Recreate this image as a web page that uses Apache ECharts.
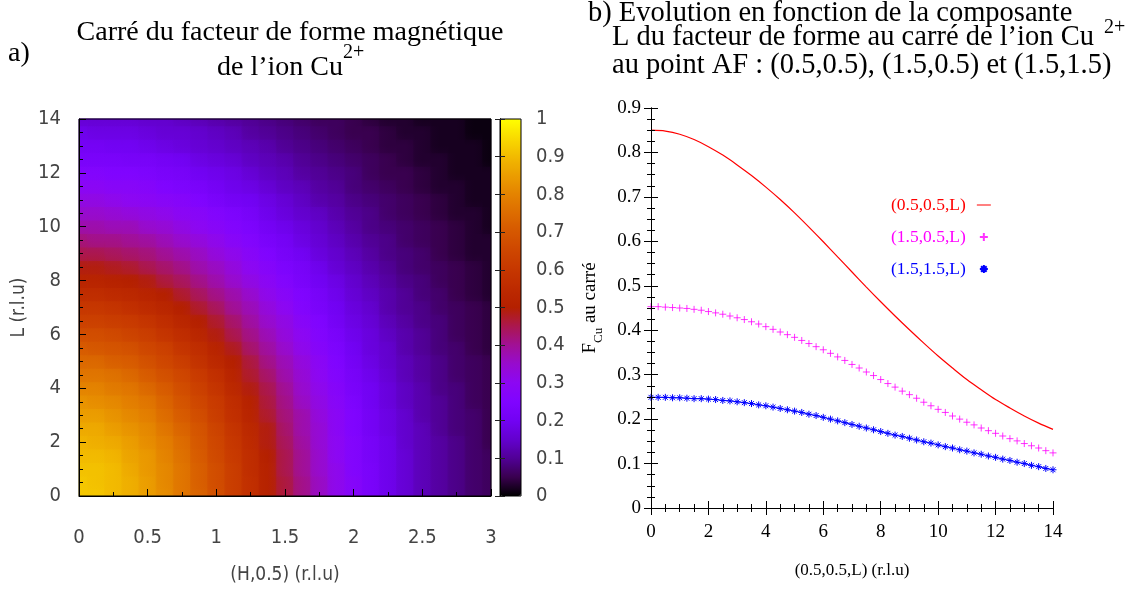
<!DOCTYPE html>
<html>
<head>
<meta charset="utf-8">
<title>Facteur de forme magnetique Cu2+</title>
<script src="https://cdn.jsdelivr.net/npm/echarts@6.0.0/dist/echarts.min.js"></script>
<style>
html, body { margin: 0; padding: 0; background: #fff; }
#main { width: 1142px; height: 594px; }
</style>
</head>
<body>
<div id="main"></div>
<script>
// a) carte (H,0.5,L) : grille
var hCells = [0, 0.125, 0.25, 0.375, 0.5, 0.625, 0.75, 0.875, 1, 1.125, 1.25, 1.375, 1.5,
    1.625, 1.75, 1.875, 2, 2.125, 2.25, 2.375, 2.5, 2.625, 2.75, 2.875, 3];
var lCells = [0, 0.5, 1, 1.5, 2, 2.5, 3, 3.5, 4, 4.5, 5, 5.5, 6, 6.5, 7, 7.5, 8, 8.5, 9, 9.5,
    10, 10.5, 11, 11.5, 12, 12.5, 13, 13.5, 14];
// une ligne par valeur de L (de 0 a 14), une colonne par valeur de H
var formFactorGrid = [
    [0.92,0.92,0.90,0.88,0.85,0.82,0.77,0.73,0.68,0.62,0.57,0.51,0.46,0.41,0.36,0.31,0.27,0.23,0.19,0.16,0.13,0.11,0.09,0.07,0.06],
    [0.92,0.91,0.90,0.88,0.85,0.81,0.77,0.72,0.67,0.62,0.57,0.51,0.46,0.41,0.36,0.31,0.27,0.23,0.19,0.16,0.13,0.11,0.09,0.07,0.06],
    [0.91,0.91,0.90,0.87,0.84,0.81,0.77,0.72,0.67,0.62,0.56,0.51,0.45,0.40,0.35,0.31,0.26,0.23,0.19,0.16,0.13,0.11,0.09,0.07,0.06],
    [0.90,0.90,0.89,0.86,0.84,0.80,0.76,0.71,0.66,0.61,0.56,0.50,0.45,0.40,0.35,0.30,0.26,0.22,0.19,0.16,0.13,0.11,0.09,0.07,0.06],
    [0.89,0.88,0.87,0.85,0.82,0.79,0.75,0.70,0.65,0.60,0.55,0.49,0.44,0.39,0.34,0.30,0.26,0.22,0.19,0.15,0.13,0.11,0.09,0.07,0.05],
    [0.87,0.87,0.85,0.83,0.81,0.77,0.73,0.69,0.64,0.59,0.54,0.49,0.43,0.38,0.34,0.29,0.25,0.21,0.18,0.15,0.13,0.10,0.08,0.07,0.05],
    [0.85,0.85,0.83,0.81,0.79,0.75,0.71,0.67,0.62,0.57,0.52,0.47,0.42,0.38,0.33,0.29,0.25,0.21,0.18,0.15,0.12,0.10,0.08,0.07,0.05],
    [0.83,0.82,0.81,0.79,0.77,0.73,0.69,0.65,0.61,0.56,0.51,0.46,0.41,0.36,0.32,0.28,0.24,0.20,0.17,0.14,0.12,0.10,0.08,0.06,0.05],
    [0.80,0.80,0.78,0.77,0.74,0.71,0.67,0.63,0.59,0.54,0.49,0.45,0.40,0.35,0.31,0.27,0.23,0.20,0.17,0.14,0.12,0.09,0.08,0.06,0.05],
    [0.77,0.77,0.76,0.74,0.71,0.68,0.65,0.61,0.57,0.52,0.47,0.43,0.38,0.34,0.30,0.26,0.22,0.19,0.16,0.13,0.11,0.09,0.07,0.06,0.05],
    [0.74,0.74,0.72,0.71,0.68,0.65,0.62,0.58,0.54,0.50,0.46,0.41,0.37,0.33,0.29,0.25,0.21,0.18,0.15,0.13,0.11,0.09,0.07,0.06,0.05],
    [0.71,0.70,0.69,0.68,0.65,0.63,0.59,0.56,0.52,0.48,0.43,0.39,0.35,0.31,0.27,0.24,0.20,0.17,0.15,0.12,0.10,0.08,0.07,0.05,0.04],
    [0.67,0.67,0.66,0.64,0.62,0.59,0.56,0.53,0.49,0.45,0.41,0.37,0.33,0.30,0.26,0.23,0.19,0.17,0.14,0.12,0.10,0.08,0.06,0.05,0.04],
    [0.63,0.63,0.62,0.61,0.59,0.56,0.53,0.50,0.47,0.43,0.39,0.35,0.32,0.28,0.25,0.21,0.18,0.16,0.13,0.11,0.09,0.08,0.06,0.05,0.04],
    [0.60,0.60,0.59,0.57,0.55,0.53,0.50,0.47,0.44,0.40,0.37,0.33,0.30,0.26,0.23,0.20,0.17,0.15,0.12,0.10,0.09,0.07,0.06,0.05,0.04],
    [0.56,0.56,0.55,0.54,0.52,0.50,0.47,0.44,0.41,0.38,0.35,0.31,0.28,0.25,0.22,0.19,0.16,0.14,0.12,0.10,0.08,0.07,0.05,0.04,0.03],
    [0.52,0.52,0.51,0.50,0.49,0.46,0.44,0.41,0.38,0.35,0.32,0.29,0.26,0.23,0.20,0.18,0.15,0.13,0.11,0.09,0.08,0.06,0.05,0.04,0.03],
    [0.49,0.49,0.48,0.47,0.45,0.43,0.41,0.38,0.36,0.33,0.30,0.27,0.24,0.22,0.19,0.16,0.14,0.12,0.10,0.08,0.07,0.06,0.05,0.04,0.03],
    [0.45,0.45,0.44,0.43,0.42,0.40,0.38,0.36,0.33,0.31,0.28,0.25,0.22,0.20,0.17,0.15,0.13,0.11,0.09,0.08,0.07,0.05,0.04,0.03,0.03],
    [0.42,0.41,0.41,0.40,0.39,0.37,0.35,0.33,0.31,0.28,0.26,0.23,0.21,0.18,0.16,0.14,0.12,0.10,0.09,0.07,0.06,0.05,0.04,0.03,0.03],
    [0.38,0.38,0.37,0.37,0.35,0.34,0.32,0.30,0.28,0.26,0.24,0.21,0.19,0.17,0.15,0.13,0.11,0.09,0.08,0.07,0.06,0.05,0.04,0.03,0.02],
    [0.35,0.35,0.34,0.33,0.32,0.31,0.29,0.28,0.26,0.24,0.22,0.19,0.17,0.15,0.14,0.12,0.10,0.09,0.07,0.06,0.05,0.04,0.03,0.03,0.02],
    [0.32,0.32,0.31,0.30,0.29,0.28,0.27,0.25,0.23,0.21,0.20,0.18,0.16,0.14,0.12,0.11,0.09,0.08,0.07,0.06,0.05,0.04,0.03,0.02,0.02],
    [0.29,0.29,0.28,0.28,0.27,0.25,0.24,0.23,0.21,0.19,0.18,0.16,0.14,0.13,0.11,0.10,0.08,0.07,0.06,0.05,0.04,0.03,0.03,0.02,0.02],
    [0.26,0.26,0.25,0.25,0.24,0.23,0.22,0.20,0.19,0.18,0.16,0.14,0.13,0.11,0.10,0.09,0.08,0.06,0.05,0.05,0.04,0.03,0.02,0.02,0.02],
    [0.23,0.23,0.23,0.22,0.22,0.21,0.20,0.18,0.17,0.16,0.14,0.13,0.12,0.10,0.09,0.08,0.07,0.06,0.05,0.04,0.03,0.03,0.02,0.02,0.01],
    [0.21,0.21,0.20,0.20,0.19,0.18,0.17,0.16,0.15,0.14,0.13,0.12,0.10,0.09,0.08,0.07,0.06,0.05,0.04,0.04,0.03,0.02,0.02,0.02,0.01],
    [0.19,0.18,0.18,0.18,0.17,0.16,0.16,0.15,0.14,0.13,0.11,0.10,0.09,0.08,0.07,0.06,0.05,0.05,0.04,0.03,0.03,0.02,0.02,0.01,0.01],
    [0.16,0.16,0.16,0.16,0.15,0.15,0.14,0.13,0.12,0.11,0.10,0.09,0.08,0.07,0.06,0.06,0.05,0.04,0.03,0.03,0.02,0.02,0.02,0.01,0.01]
];
// palette gnuplot (noir - bleu - violet - rouge - jaune)
var paletteColors = ['#000000', '#39004f', '#510096', '#6301ce', '#7202f3', '#8004ff', '#8c07f3',
    '#970bce', '#a11096', '#ab174f', '#b42000', '#bd2a00', '#c63700', '#ce4600', '#d55700',
    '#dd6c00', '#e48300', '#eb9d00', '#f2ba00', '#f9db00', '#ffff00'];

// b) courbes en fonction de L
var lCoarse = [0, 0.5, 1, 1.5, 2, 2.5, 3, 3.5, 4, 4.5, 5, 5.5, 6, 6.5, 7, 7.5, 8, 8.5, 9, 9.5,
    10, 10.5, 11, 11.5, 12, 12.5, 13, 13.5, 14];
var redValues = [0.850, 0.848, 0.841, 0.829, 0.813, 0.794, 0.772, 0.748, 0.722, 0.694, 0.664,
    0.632, 0.599, 0.565, 0.531, 0.497, 0.464, 0.432, 0.401, 0.371, 0.342, 0.315, 0.289, 0.266,
    0.244, 0.225, 0.207, 0.191, 0.177];
var lFine = [0, 0.25, 0.5, 0.75, 1, 1.25, 1.5, 1.75, 2, 2.25, 2.5, 2.75, 3, 3.25, 3.5, 3.75,
    4, 4.25, 4.5, 4.75, 5, 5.25, 5.5, 5.75, 6, 6.25, 6.5, 6.75, 7, 7.25, 7.5, 7.75, 8, 8.25,
    8.5, 8.75, 9, 9.25, 9.5, 9.75, 10, 10.25, 10.5, 10.75, 11, 11.25, 11.5, 11.75, 12, 12.25,
    12.5, 12.75, 13, 13.25, 13.5, 13.75, 14];
var magentaValues = [0.453, 0.453, 0.452, 0.451, 0.450, 0.449, 0.447, 0.445, 0.442, 0.439,
    0.436, 0.432, 0.428, 0.424, 0.419, 0.414, 0.408, 0.402, 0.396, 0.390, 0.384, 0.377, 0.370,
    0.363, 0.356, 0.348, 0.340, 0.332, 0.323, 0.315, 0.306, 0.298, 0.289, 0.280, 0.272, 0.263,
    0.255, 0.247, 0.238, 0.230, 0.222, 0.215, 0.207, 0.200, 0.193, 0.187, 0.180, 0.174, 0.168,
    0.162, 0.156, 0.151, 0.145, 0.140, 0.135, 0.129, 0.124];
var blueValues = [0.249, 0.249, 0.249, 0.248, 0.248, 0.247, 0.246, 0.246, 0.245, 0.244, 0.242,
    0.241, 0.239, 0.237, 0.235, 0.232, 0.230, 0.227, 0.224, 0.221, 0.218, 0.215, 0.211, 0.208,
    0.204, 0.200, 0.196, 0.192, 0.188, 0.184, 0.180, 0.176, 0.172, 0.168, 0.164, 0.161, 0.157,
    0.153, 0.149, 0.146, 0.142, 0.138, 0.135, 0.131, 0.128, 0.124, 0.121, 0.117, 0.114, 0.110,
    0.107, 0.103, 0.100, 0.096, 0.093, 0.089, 0.086];
var seriesNames = ['(0.5,0.5,L)', '(1.5,0.5,L)', '(1.5,1.5,L)'];

function pairs(xs, ys) {
    return xs.map(function (x, i) { return [x, ys[i]]; });
}
// couleur de la palette pour une valeur entre 0 et 1
function paletteColor(v) {
    var n = paletteColors.length - 1;
    var pos = Math.max(0, Math.min(1, v)) * n;
    var i = Math.min(n - 1, Math.floor(pos));
    var t = pos - i;
    var a = paletteColors[i], b = paletteColors[i + 1];
    var rgb = [1, 3, 5].map(function (k) {
        var ca = parseInt(a.substr(k, 2), 16), cb = parseInt(b.substr(k, 2), 16);
        return Math.round(ca + (cb - ca) * t);
    });
    return 'rgb(' + rgb.join(',') + ')';
}
// une bande par ligne L, degrade le long de H
function renderRow(params, api) {
    var j = params.dataIndex;
    var l = lCells[j];
    var lo = Math.max(lCells[0], l - 0.25), hi = Math.min(lCells[lCells.length - 1], l + 0.25);
    var p0 = api.coord([hCells[0], hi]);
    var p1 = api.coord([hCells[hCells.length - 1], lo]);
    var w = p1[0] - p0[0];
    var stops = hCells.map(function (h, i) {
        return { offset: (api.coord([h, l])[0] - p0[0]) / w, color: paletteColor(formFactorGrid[j][i]) };
    });
    return {
        type: 'rect',
        shape: { x: p0[0], y: p0[1] - 0.6, width: w, height: p1[1] - p0[1] + 1.2 },
        style: { fill: new echarts.graphic.LinearGradient(0, 0, 1, 0, stops) }
    };
}
// une bande par colonne H, degrade le long de L (posee en demi-transparence)
function renderColumn(params, api) {
    var i = params.dataIndex;
    var h = hCells[i];
    var lo = Math.max(hCells[0], h - 0.0625), hi = Math.min(hCells[hCells.length - 1], h + 0.0625);
    var p0 = api.coord([lo, lCells[lCells.length - 1]]);
    var p1 = api.coord([hi, lCells[0]]);
    var ht = p1[1] - p0[1];
    var stops = lCells.map(function (l, j) {
        return { offset: (p1[1] - api.coord([h, l])[1]) / ht, color: paletteColor(formFactorGrid[j][i]) };
    });
    return {
        type: 'rect',
        shape: { x: p0[0] - 0.6, y: p0[1], width: p1[0] - p0[0] + 1.2, height: ht },
        style: { fill: new echarts.graphic.LinearGradient(0, 1, 0, 0, stops), opacity: 0.5 }
    };
}

var serif = "'Liberation Serif', 'Times New Roman', serif";
var narrow = "'Liberation Sans Narrow', 'DejaVu Sans Condensed', 'DejaVu Sans', sans-serif";
var plusPath = 'path://M0,4L8,4M4,0L4,8';
var starPath = 'path://M0,4L8,4M4,0L4,8M1.2,1.2L6.8,6.8M6.8,1.2L1.2,6.8';
var dashPath = 'path://M0,0L14,0L14,1L0,1Z';

function frameAxis(opt) {
    var base = {
        type: 'value',
        z: 10,
        axisLine: { show: true, lineStyle: { color: '#000', width: 1 } },
        axisTick: { show: true, inside: true, length: 7, lineStyle: { color: '#000' } },
        minorTick: { show: true, splitNumber: 4, length: 4, lineStyle: { color: '#000' } },
        splitLine: { show: false },
        axisLabel: { show: false }
    };
    for (var k in opt) base[k] = opt[k];
    return base;
}
function titleText(x, y, text, size, align) {
    return {
        type: 'text', x: x, y: y, z: 20,
        style: { text: text, font: size + 'px ' + serif, fill: '#000', textAlign: align, textVerticalAlign: 'middle' }
    };
}

var myChart = echarts.init(document.getElementById('main'));
var option = {
    animation: false,
    backgroundColor: '#fff',
    graphic: [
        titleText(8, 54, 'a)', 28, 'left'),
        titleText(290, 33, 'Carré du facteur de forme magnétique', 28, 'center'),
        titleText(217, 68, 'de l’ion Cu', 28, 'left'),
        titleText(343, 53, '2+', 20, 'left'),
        titleText(588, 14, 'b) Evolution en fonction de la composante', 28.5, 'left'),
        titleText(612, 38, 'L du facteur de forme au carré de l’ion Cu', 28.5, 'left'),
        titleText(1104, 28, '2+', 20, 'left'),
        titleText(612, 66, 'au point AF : (0.5,0.5), (1.5,0.5) et (1.5,1.5)', 28.5, 'left')
    ],
    grid: [
        { left: 79, top: 119, width: 412, height: 377, show: true, z: 10, backgroundColor: 'transparent', borderColor: '#000', borderWidth: 1 },
        { left: 500, top: 119, width: 21, height: 377, show: true, z: 10, backgroundColor: 'transparent', borderColor: '#000', borderWidth: 1 },
        { left: 651, top: 108, width: 402, height: 400 }
    ],
    xAxis: [
        frameAxis({
            gridIndex: 0, position: 'bottom', min: 0, max: 3, interval: 0.5,
            minorTick: { show: true, splitNumber: 2, length: 4, lineStyle: { color: '#000' } },
            axisLabel: { show: true, margin: 32, fontSize: 20, fontFamily: narrow, color: '#444' },
            name: '(H,0.5) (r.l.u)', nameLocation: 'middle', nameGap: 70,
            nameTextStyle: { fontSize: 19, fontFamily: narrow, color: '#444' }
        }),
        { type: 'value', gridIndex: 1, min: 0, max: 1, show: false },
        frameAxis({
            gridIndex: 2, position: 'bottom', min: 0, max: 14, interval: 2,
            axisLabel: { show: true, margin: 15, fontSize: 19, fontFamily: serif, color: '#000' },
            name: '(0.5,0.5,L) (r.l.u)', nameLocation: 'middle', nameGap: 54,
            nameTextStyle: { fontSize: 17, fontFamily: serif, color: '#000' }
        }),
        frameAxis({ gridIndex: 2, position: 'top', min: 0, max: 14, interval: 2 })
    ],
    yAxis: [
        frameAxis({
            gridIndex: 0, position: 'left', min: 0, max: 14, interval: 2,
            axisLabel: { show: true, margin: 18, fontSize: 20, fontFamily: narrow, color: '#444' },
            name: 'L (r.l.u)', nameLocation: 'middle', nameGap: 50,
            nameTextStyle: { fontSize: 19, fontFamily: narrow, color: '#444' }
        }),
        frameAxis({
            gridIndex: 1, position: 'right', min: 0, max: 1, interval: 0.1,
            axisTick: { show: true, inside: true, length: 5, lineStyle: { color: '#222' } },
            minorTick: { show: false },
            axisLabel: { show: true, margin: 15, fontSize: 20, fontFamily: narrow, color: '#444' }
        }),
        frameAxis({
            gridIndex: 1, position: 'left', min: 0, max: 1, interval: 0.1,
            axisTick: { show: true, inside: true, length: 5, lineStyle: { color: '#222' } },
            minorTick: { show: false }
        }),
        frameAxis({
            gridIndex: 2, position: 'left', min: 0, max: 0.9, interval: 0.1,
            axisLabel: { show: true, margin: 10, fontSize: 19, fontFamily: serif, color: '#000' },
            name: '{f|F}{c|Cu}{f| au carré}', nameLocation: 'middle', nameGap: 46,
            nameTextStyle: {
                rich: {
                    f: { fontSize: 19, fontFamily: serif, color: '#000', lineHeight: 24, verticalAlign: 'top' },
                    c: { fontSize: 13, fontFamily: serif, color: '#000', lineHeight: 13, verticalAlign: 'bottom' }
                }
            }
        }),
        frameAxis({ gridIndex: 2, position: 'right', min: 0, max: 0.9, interval: 0.1 })
    ],
    visualMap: {
        type: 'continuous',
        seriesIndex: [],
        min: 0,
        max: 1,
        calculable: false,
        left: 500,
        top: 119,
        padding: 0,
        itemWidth: 21,
        itemHeight: 377,
        text: null,
        inRange: { color: paletteColors }
    },
    legend: {
        orient: 'vertical',
        left: 886,
        top: 191,
        align: 'right',
        itemGap: 14,
        itemWidth: 14,
        itemHeight: 8,
        textStyle: { fontSize: 17.5, fontFamily: serif, padding: [0, 6, 0, 0] },
        data: [
            { name: seriesNames[0], icon: dashPath, textStyle: { color: '#ff0000' } },
            { name: seriesNames[1], textStyle: { color: '#ff00ff' } },
            { name: seriesNames[2], icon: starPath, textStyle: { color: '#0000ff' } }
        ]
    },
    series: [
        {
            type: 'custom',
            xAxisIndex: 0,
            yAxisIndex: 0,
            renderItem: renderRow,
            data: lCells.map(function (l) { return [hCells[0], l]; }),
            silent: true
        },
        {
            type: 'custom',
            xAxisIndex: 0,
            yAxisIndex: 0,
            renderItem: renderColumn,
            data: hCells.map(function (h) { return [h, lCells[0]]; }),
            silent: true
        },
        {
            name: seriesNames[0],
            type: 'line',
            xAxisIndex: 2,
            yAxisIndex: 3,
            data: pairs(lCoarse, redValues),
            smooth: 0.3,
            symbol: 'none',
            color: '#ff0000',
            lineStyle: { color: '#ff0000', width: 1.2 }
        },
        {
            name: seriesNames[1],
            type: 'scatter',
            xAxisIndex: 2,
            yAxisIndex: 3,
            data: pairs(lFine, magentaValues),
            symbol: plusPath,
            symbolSize: 7,
            color: '#ff00ff',
            itemStyle: { color: '#ff00ff', borderColor: '#ff00ff', borderWidth: 1 }
        },
        {
            name: seriesNames[2],
            type: 'line',
            xAxisIndex: 2,
            yAxisIndex: 3,
            data: pairs(lFine, blueValues),
            symbol: starPath,
            symbolSize: 7,
            showSymbol: true,
            color: '#0000ff',
            lineStyle: { color: '#0000ff', width: 1 },
            itemStyle: { color: '#0000ff', borderColor: '#0000ff', borderWidth: 1 }
        }
    ]
};
myChart.setOption(option);
</script>
</body>
</html>
